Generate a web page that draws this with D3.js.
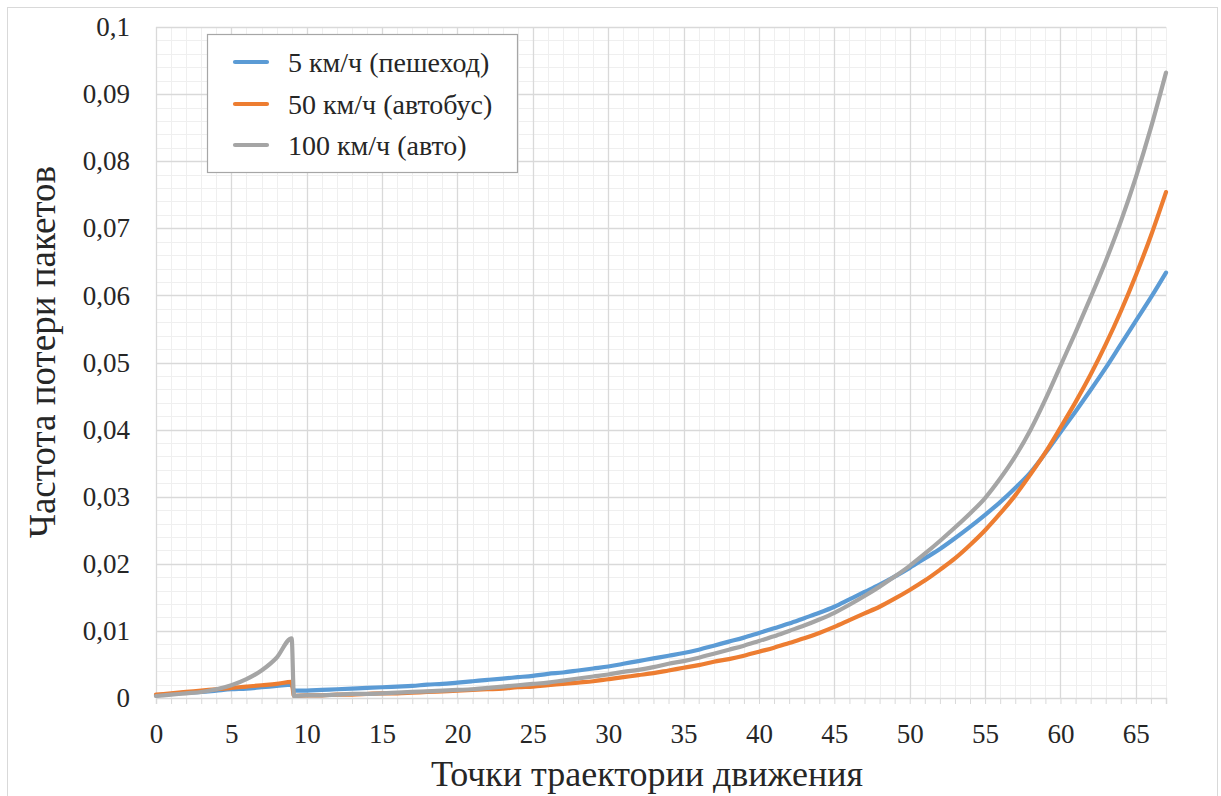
<!DOCTYPE html>
<html>
<head>
<meta charset="utf-8">
<script src="https://cdn.jsdelivr.net/npm/d3@7"></script>
<style>
  html, body { margin: 0; padding: 0; background: #ffffff; }
  svg { display: block; }
</style>
</head>
<body>
<svg id="chart" width="1221" height="796"></svg>
<script>
// Trajectory points (the drop after point 9 is a handover, sampled just after 9)
const points = [0, 1, 2, 3, 4, 5, 6, 7, 8, 9, 9.15,
  10, 11, 12, 13, 14, 15, 16, 17, 18, 19, 20, 21, 22, 23, 24, 25, 26, 27, 28, 29,
  30, 31, 32, 33, 34, 35, 36, 37, 38, 39, 40, 41, 42, 43, 44, 45, 46, 47, 48, 49,
  50, 51, 52, 53, 54, 55, 56, 57, 58, 59, 60, 61, 62, 63, 64, 65, 66, 67];

// Packet loss rate, 5 km/h (pedestrian)
const pedestrian = [0.0004, 0.0006, 0.0008, 0.0009, 0.0011, 0.0013, 0.0014, 0.0016, 0.0018, 0.0020, 0.0011,
  0.0011, 0.0012, 0.0013, 0.0014, 0.0015, 0.0016, 0.0017, 0.0018, 0.0020, 0.0021,
  0.0023, 0.0025, 0.0027, 0.0029, 0.0031, 0.0033, 0.0036, 0.0038, 0.0041, 0.0044,
  0.0047, 0.0051, 0.0055, 0.0059, 0.0063, 0.0067, 0.0072, 0.0078, 0.0084, 0.0090,
  0.0097, 0.0104, 0.0111, 0.0119, 0.0127, 0.0136, 0.0147, 0.0158, 0.0169, 0.0181,
  0.0194, 0.0208, 0.0222, 0.0238, 0.0255, 0.0273, 0.0292, 0.0313, 0.0336, 0.0365,
  0.0396, 0.0427, 0.0459, 0.0492, 0.0527, 0.0562, 0.0597, 0.0634];

// Packet loss rate, 50 km/h (bus)
const bus = [0.0005, 0.0007, 0.0009, 0.0011, 0.0013, 0.0015, 0.0017, 0.0019, 0.0021, 0.0024, 0.0003,
  0.0004, 0.0004, 0.0005, 0.0005, 0.0006, 0.0007, 0.0007, 0.0008, 0.0009, 0.0010,
  0.0011, 0.0012, 0.0013, 0.0014, 0.0016, 0.0017, 0.0019, 0.0021, 0.0023, 0.0025,
  0.0028, 0.0031, 0.0034, 0.0037, 0.0041, 0.0045, 0.0049, 0.0054, 0.0058, 0.0063,
  0.0069, 0.0075, 0.0082, 0.0089, 0.0097, 0.0106, 0.0116, 0.0126, 0.0136, 0.0148,
  0.0161, 0.0175, 0.0191, 0.0208, 0.0228, 0.0250, 0.0275, 0.0302, 0.0333, 0.0366,
  0.0403, 0.0441, 0.0482, 0.0527, 0.0576, 0.0630, 0.0689, 0.0754];

// Packet loss rate, 100 km/h (car)
const car = [0.0003, 0.0005, 0.0007, 0.0009, 0.0013, 0.0019, 0.0028, 0.0041, 0.0060, 0.0089, 0.0003,
  0.0004, 0.0004, 0.0005, 0.0006, 0.0006, 0.0007, 0.0008, 0.0009, 0.0010, 0.0011,
  0.0012, 0.0013, 0.0015, 0.0017, 0.0019, 0.0021, 0.0023, 0.0026, 0.0029, 0.0032,
  0.0035, 0.0039, 0.0042, 0.0046, 0.0051, 0.0055, 0.0060, 0.0066, 0.0072, 0.0078,
  0.0085, 0.0092, 0.0100, 0.0108, 0.0117, 0.0127, 0.0139, 0.0152, 0.0166, 0.0181,
  0.0197, 0.0215, 0.0234, 0.0254, 0.0275, 0.0298, 0.0327, 0.0360, 0.0399, 0.0445,
  0.0495, 0.0545, 0.0597, 0.0651, 0.0710, 0.0776, 0.0850, 0.0932];

const seriesNames = ["5 км/ч (пешеход)", "50 км/ч (автобус)", "100 км/ч (авто)"];
const seriesColors = ["#5B9BD5", "#ED7D31", "#A5A5A5"];
const seriesValues = [pedestrian, bus, car];

const xLabelTicks = [0, 5, 10, 15, 20, 25, 30, 35, 40, 45, 50, 55, 60, 65];
const yLabelTicks = [0, 0.01, 0.02, 0.03, 0.04, 0.05, 0.06, 0.07, 0.08, 0.09, 0.1];

const xTitle = "Точки траектории движения";
const yTitle = "Частота потери пакетов";

const FONT = "'Liberation Serif', 'Times New Roman', serif";
const INK = "#262626";
const plot = { left: 156, right: 1166, top: 27, bottom: 698 };

const svg = d3.select("#chart");
const ru = d3.formatLocale({ decimal: ",", thousands: "\u00a0", grouping: [3], currency: ["", " ₽"] });
const fmtY = ru.format("~g");

const x = d3.scaleLinear().domain([0, 67]).range([plot.left, plot.right]);
const y = d3.scaleLinear().domain([0, 0.1]).range([plot.bottom, plot.top]);

// Chart area frame
svg.append("rect")
  .attr("x", 7.5).attr("y", 7.5).attr("width", 1210).attr("height", 800)
  .attr("fill", "#ffffff").attr("stroke", "#d9d9d9").attr("stroke-width", 1);

// Grid: minor then major lines
const grid = svg.append("g");
const xMinor = d3.range(0, 68, 1).filter(v => v % 5 !== 0);
const yMinor = d3.range(1, 50, 1).filter(v => v % 5 !== 0).map(v => v * 0.002);

grid.selectAll(".vmin").data(xMinor).join("line")
  .attr("x1", d => Math.round(x(d)) + 0.5).attr("x2", d => Math.round(x(d)) + 0.5)
  .attr("y1", plot.top).attr("y2", plot.bottom)
  .attr("stroke", "#efefef").attr("stroke-width", 1);
grid.selectAll(".hmin").data(yMinor).join("line")
  .attr("x1", plot.left).attr("x2", plot.right)
  .attr("y1", d => Math.round(y(d)) + 0.5).attr("y2", d => Math.round(y(d)) + 0.5)
  .attr("stroke", "#efefef").attr("stroke-width", 1);
grid.selectAll(".vmaj").data(xLabelTicks).join("line")
  .attr("x1", d => Math.round(x(d)) + 0.5).attr("x2", d => Math.round(x(d)) + 0.5)
  .attr("y1", plot.top).attr("y2", plot.bottom)
  .attr("stroke", "#d9d9d9").attr("stroke-width", 1.3);
grid.selectAll(".hmaj").data(yLabelTicks.filter(v => v > 0)).join("line")
  .attr("x1", plot.left).attr("x2", plot.right)
  .attr("y1", d => Math.round(y(d)) + 0.5).attr("y2", d => Math.round(y(d)) + 0.5)
  .attr("stroke", "#d9d9d9").attr("stroke-width", 1.3);

// X axis: a tick at every point, labels every 5
const xAxis = d3.axisBottom(x)
  .tickValues(d3.range(0, 68, 1))
  .tickSize(6)
  .tickPadding(20)
  .tickFormat(d => (d % 5 === 0 ? String(d) : ""));
const gx = svg.append("g").attr("transform", `translate(0,${plot.bottom})`).call(xAxis);
gx.attr("font-family", null);
gx.select(".domain").attr("stroke", "#d9d9d9").attr("stroke-width", 1.5);
gx.selectAll(".tick line").attr("stroke", "#d9d9d9");
gx.selectAll(".tick text").attr("font-size", 27).attr("fill", INK).style("font-family", FONT);

// Y axis labels
const yAxis = d3.axisLeft(y).tickValues(yLabelTicks).tickSize(0).tickPadding(26).tickFormat(fmtY);
const gy = svg.append("g").attr("transform", `translate(${plot.left},0)`).call(yAxis);
gy.attr("font-family", null);
gy.select(".domain").remove();
gy.selectAll(".tick text").attr("font-size", 27).attr("fill", INK).style("font-family", FONT);

// Series lines
const line = d3.line()
  .x((d, i) => x(points[i]))
  .y(d => y(d))
  .curve(d3.curveMonotoneX);

svg.append("g").selectAll("path").data(seriesValues).join("path")
  .attr("d", d => line(d))
  .attr("fill", "none")
  .attr("stroke", (d, i) => seriesColors[i])
  .attr("stroke-width", 4.2)
  .attr("stroke-linejoin", "round")
  .attr("stroke-linecap", "round");

// Axis titles
svg.append("text")
  .attr("x", 647).attr("y", 786)
  .attr("text-anchor", "middle")
  .attr("font-size", 36)
  .attr("fill", INK)
  .style("font-family", FONT)
  .text(xTitle);

svg.append("text")
  .attr("transform", "translate(55,352) rotate(-90)")
  .attr("text-anchor", "middle")
  .attr("font-size", 37)
  .attr("fill", INK)
  .style("font-family", FONT)
  .text(yTitle);

// Legend
const legend = svg.append("g");
legend.append("rect")
  .attr("x", 207.5).attr("y", 34.5).attr("width", 310).attr("height", 138)
  .attr("fill", "#ffffff").attr("stroke", "#a6a6a6").attr("stroke-width", 1.2);
const rowsY = [62, 104, 145];
const item = legend.selectAll(".item").data(seriesNames).join("g")
  .attr("transform", (d, i) => `translate(0,${rowsY[i]})`);
item.append("line")
  .attr("x1", 235).attr("x2", 267).attr("y1", 0).attr("y2", 0)
  .attr("stroke", (d, i) => seriesColors[i]).attr("stroke-width", 4.2)
  .attr("stroke-linecap", "round");
item.append("text")
  .attr("x", 288).attr("y", 0).attr("dy", "0.35em")
  .attr("font-size", 28)
  .attr("fill", INK)
  .style("font-family", FONT)
  .text(d => d);
</script>
</body>
</html>
